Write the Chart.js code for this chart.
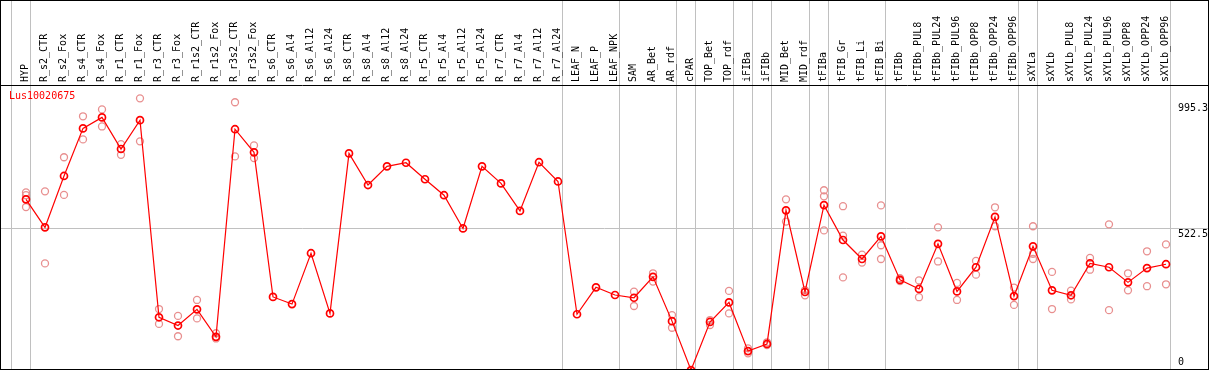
<!DOCTYPE html>
<html>
<head>
<meta charset="utf-8">
<script src="https://cdn.jsdelivr.net/npm/chart.js@4/dist/chart.umd.min.js"></script>
<style>
  html, body { margin: 0; padding: 0; background: #fff; }
  canvas { display: block; }
</style>
</head>
<body>
<canvas id="expr" width="1209" height="370"></canvas>
<script>
// Sample names, left to right
const categories = [
  'HYP', 'R_s2_CTR', 'R_s2_Fox', 'R_s4_CTR', 'R_s4_Fox', 'R_r1_CTR', 'R_r1_Fox',
  'R_r3_CTR', 'R_r3_Fox', 'R_r1s2_CTR', 'R_r1s2_Fox', 'R_r3s2_CTR', 'R_r3s2_Fox',
  'R_s6_CTR', 'R_s6_Al4', 'R_s6_Al12', 'R_s6_Al24', 'R_s8_CTR', 'R_s8_Al4', 'R_s8_Al12',
  'R_s8_Al24', 'R_r5_CTR', 'R_r5_Al4', 'R_r5_Al12', 'R_r5_Al24', 'R_r7_CTR', 'R_r7_Al4',
  'R_r7_Al12', 'R_r7_Al24', 'LEAF_N', 'LEAF_P', 'LEAF_NPK', 'SAM', 'AR_Bet', 'AR_rdf',
  'cPAR', 'TOP_Bet', 'TOP_rdf', 'iFIBa', 'iFIBb', 'MID_Bet', 'MID_rdf', 'tFIBa',
  'tFIB_Gr', 'tFIB_Li', 'tFIB_Bi', 'tFIBb', 'tFIBb_PUL8', 'tFIBb_PUL24', 'tFIBb_PUL96',
  'tFIBb_OPP8', 'tFIBb_OPP24', 'tFIBb_OPP96', 'sXYLa', 'sXYLb', 'sXYLb_PUL8',
  'sXYLb_PUL24', 'sXYLb_PUL96', 'sXYLb_OPP8', 'sXYLb_OPP24', 'sXYLb_OPP96'
];

// mean expression per sample
const meanValues = [
  628, 526, 713, 886, 926, 811, 916, 199, 169, 228, 128, 883, 799,
  273, 247, 432, 213, 795, 680, 748, 761, 701, 643, 522, 748, 686, 586, 763, 693,
  210, 308, 280, 270, 346, 185, 7, 182, 253, 76, 102, 588, 291,
  607, 480, 411, 493, 335, 302, 466, 293, 381, 564, 276,
  457, 297, 279, 395, 381, 326, 378, 392
];

// replicates (null = none shown)
const rep1 = [
  653, 657, 781, 930, 955, 829, 995.3, 229, 204, 262, 141, 981, 824,
  null, null, null, null, null, null, null, null, null, null, null, null, null, null, null, null,
  null, null, null, 292, 359, 207, null, 189, 295, 86, 108, 628, 298,
  661, 603, 427, 606, 341, 333, 526, 324, 404, 599, 307,
  530, 364, 296, 415, 537, 359, 439, 464
];
const rep2 = [
  643, 395, 644, 846, 893, 790, 839, 175, 130, 195, 122, 784, 778,
  null, null, null, null, null, null, null, null, null, null, null, null, null, null, null, null,
  null, null, null, 240, 329, 161, null, 171, 213, 68, 98, 547, 279,
  639, 496, 398, 461, 331, 272, 402, 262, 354, 530, 244,
  430, 229, 264, 372, 225, 297, 312, 319
];
const rep3 = [
  600, null, null, null, null, null, null, null, null, null, null, null, null,
  null, null, null, null, null, null, null, null, null, null, null, null, null, null, null, null,
  null, null, null, null, null, null, null, null, null, null, null, null, null,
  515, 344, null, 411, null, null, null, null, null, null, null,
  411, null, null, null, null, null, null, null
];

// last sample index of each tissue group (vertical separators)
const groupEnds = [-1, 0, 28, 31, 34, 35, 37, 38, 39, 41, 42, 45, 52, 53, 60];
const yTicks = [0, 522.5, 995.3];
const geneId = 'Lus10020675';

const FONT = "'DejaVu Sans Mono', monospace";
const xMin = -1.3684, xMax = 62.2632;

const toPoints = arr => arr.map((v, i) => ({ x: i, y: v }));

const framePlugin = {
  id: 'frame',
  afterDraw(chart) {
    const { ctx, chartArea } = chart;
    const yScale = chart.scales.y;
    ctx.save();
    ctx.strokeStyle = '#000';
    ctx.lineWidth = 1;
    ctx.strokeRect(0.5, 0.5, chart.width - 1, chart.height - 1);

    ctx.font = '10px ' + FONT;
    ctx.textBaseline = 'top';
    ctx.textAlign = 'left';
    ctx.fillStyle = '#ff0000';
    ctx.fillText(geneId, 9, chartArea.top + 6);

    ctx.fillStyle = '#000';
    yTicks.forEach(v => {
      let y = yScale.getPixelForValue(v) + 1;
      y = Math.max(chartArea.top + 18, Math.min(chartArea.bottom - 12, y));
      ctx.fillText(String(v), chartArea.right - 31, y);
    });
    ctx.restore();
  }
};

new Chart(document.getElementById('expr'), {
  type: 'line',
  data: {
    datasets: [
      {
        label: 'mean',
        data: toPoints(meanValues),
        xAxisID: 'xGrid',
        borderColor: '#ff0000',
        borderWidth: 1.2,
        pointRadius: 3.5,
        pointBorderWidth: 1.7,
        pointBorderColor: '#ff0000',
        pointBackgroundColor: 'rgba(0,0,0,0)',
        tension: 0,
        order: 0
      },
      ...[rep1, rep2, rep3].map((r, k) => ({
        label: 'rep' + (k + 1),
        data: toPoints(r),
        xAxisID: 'xGrid',
        showLine: false,
        pointRadius: 3.5,
        pointBorderWidth: 1.3,
        pointBorderColor: '#e88f8f',
        pointBackgroundColor: 'rgba(0,0,0,0)',
        order: 1
      }))
    ]
  },
  options: {
    responsive: false,
    animation: false,
    devicePixelRatio: 1,
    layout: { autoPadding: false, padding: { top: 0, left: 0, right: 0, bottom: 1 } },
    plugins: {
      legend: { display: false },
      tooltip: { enabled: false },
      title: { display: false }
    },
    scales: {
      xLab: {
        type: 'linear',
        position: 'top',
        weight: 1,
        min: xMin,
        max: xMax,
        grid: { display: false, drawTicks: false },
        border: { display: false },
        afterBuildTicks: s => { s.ticks = categories.map((c, i) => ({ value: i })); },
        afterFit: s => { s.height = 85; },
        ticks: {
          autoSkip: false,
          minRotation: 90,
          maxRotation: 90,
          padding: 3,
          labelOffset: 11,
          color: '#000',
          font: { family: FONT, size: 10 },
          callback: v => categories[v]
        }
      },
      xGrid: {
        type: 'linear',
        position: 'top',
        weight: 0,
        min: xMin,
        max: xMax,
        afterBuildTicks: s => { s.ticks = groupEnds.map(g => ({ value: g + 0.226 })); },
        afterFit: s => { s.height = 0; },
        grid: { color: '#c0c0c0', lineWidth: 1, drawTicks: true, tickLength: 85 },
        border: { display: true, color: '#000', width: 1 },
        ticks: { display: false }
      },
      y: {
        type: 'linear',
        position: 'right',
        min: 10.91,
        max: 1043.8,
        afterBuildTicks: s => { s.ticks = [{ value: 522.5 }]; },
        afterFit: s => { s.width = 0; },
        grid: { color: '#c0c0c0', lineWidth: 1, drawTicks: false },
        border: { display: false },
        ticks: { display: false }
      }
    }
  },
  plugins: [framePlugin]
});
</script>
</body>
</html>
